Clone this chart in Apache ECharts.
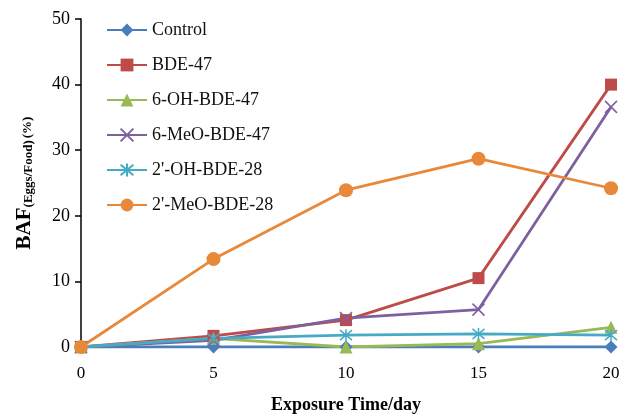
<!DOCTYPE html>
<html>
<head>
<meta charset="utf-8">
<script src="https://cdn.jsdelivr.net/npm/echarts@6/dist/echarts.min.js"></script>
<style>
  html, body { margin: 0; padding: 0; background: #fff; }
  #chart { width: 619px; height: 414px; }
</style>
</head>
<body>
<div id="chart"></div>
<script>
const days = [0, 5, 10, 15, 20];
const control = [0, 0, 0, 0, 0];
const bde47 = [0, 1.7, 4.1, 10.5, 40];
const ohBde47 = [0, 1.3, 0, 0.5, 3.0];
const meoBde47 = [0, 1.0, 4.4, 5.7, 36.6];
const ohBde28 = [0, 1.3, 1.8, 2.0, 1.8];
const meoBde28 = [0, 13.4, 23.9, 28.7, 24.2];

const SERIF = '"Liberation Serif", "DejaVu Serif", serif';
const CROSS = 'path://M0,0 L10,10 M10,0 L0,10';
const STAR = 'path://M0,0 L10,10 M10,0 L0,10 M5,-1 L5,11';

const pair = (values) => values.map((v, i) => [days[i], v]);

const makeSeries = (name, values, color, symbol, size, stroked) => ({
  name,
  type: 'line',
  data: pair(values),
  symbol,
  symbolSize: size,
  lineStyle: { color, width: 2.8 },
  itemStyle: stroked
    ? { color: 'transparent', borderColor: color, borderWidth: 1.5 }
    : { color, borderColor: color, borderWidth: 0 },
  emphasis: { disabled: true },
});

const chart = echarts.init(document.getElementById('chart'));
chart.setOption({
  animation: false,
  backgroundColor: '#fff',
  grid: { left: 81, right: 8, top: 19, bottom: 67, containLabel: false, outerBoundsMode: 'none' },
  legend: {
    orient: 'vertical',
    left: 101,
    top: 16,
    itemWidth: 40,
    itemHeight: 16,
    itemGap: 17,
    textStyle: { fontFamily: SERIF, fontSize: 18, color: '#111' },
    data: ['Control', 'BDE-47', '6-OH-BDE-47', '6-MeO-BDE-47', "2'-OH-BDE-28", "2'-MeO-BDE-28"],
  },
  xAxis: {
    type: 'value',
    min: 0,
    max: 20,
    interval: 5,
    axisLine: { show: false },
    axisTick: { show: false },
    splitLine: { show: false },
    axisLabel: { fontFamily: SERIF, fontSize: 17, color: '#000', margin: 18 },
    name: 'Exposure Time/day',
    nameLocation: 'middle',
    nameGap: 49,
    nameTextStyle: { fontFamily: SERIF, fontSize: 18, fontWeight: 'bold', color: '#000' },
  },
  yAxis: {
    type: 'value',
    min: 0,
    max: 50,
    interval: 10,
    axisLine: { show: true, lineStyle: { color: '#000', width: 1.5 } },
    axisTick: { show: true, inside: false, length: 6, lineStyle: { color: '#000', width: 1.5 } },
    splitLine: { show: false },
    axisLabel: { fontFamily: SERIF, fontSize: 18, color: '#000', margin: 11 },
    name: '{b|BAF}{s|(Eggs/Food)}{p|(%)}',
    nameLocation: 'middle',
    nameGap: 46,
    nameTextStyle: {
      fontFamily: SERIF,
      color: '#000',
      rich: {
        b: { fontFamily: SERIF, fontSize: 21, fontWeight: 'bold', color: '#000' },
        s: { fontFamily: SERIF, fontSize: 13, fontWeight: 'bold', color: '#000', verticalAlign: 'bottom', padding: [7, 0, 0, 0] },
        p: { fontFamily: SERIF, fontSize: 13, fontWeight: 'bold', color: '#000', padding: [7, 0, 0, 2] },
      },
    },
  },
  series: [
    makeSeries('Control', control, '#4A7EBB', 'diamond', 13, false),
    makeSeries('BDE-47', bde47, '#BE4B48', 'rect', 12, false),
    makeSeries('6-OH-BDE-47', ohBde47, '#98B954', 'triangle', 13, false),
    makeSeries('6-MeO-BDE-47', meoBde47, '#7D60A0', CROSS, 12, true),
    makeSeries("2'-OH-BDE-28", ohBde28, '#46AAC5', STAR, 12, true),
    makeSeries("2'-MeO-BDE-28", meoBde28, '#E8893A', 'circle', 14, false),
  ],
});
</script>
</body>
</html>
